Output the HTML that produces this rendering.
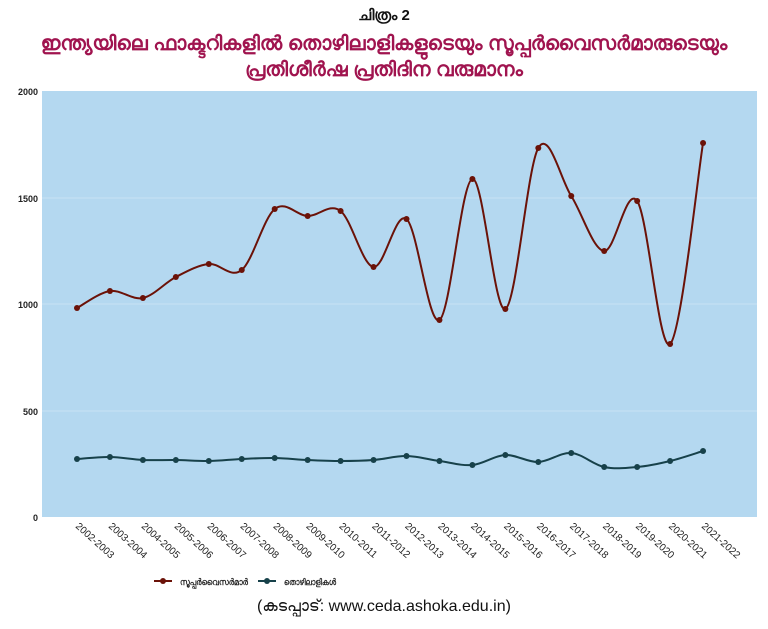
<!DOCTYPE html>
<html><head><meta charset="utf-8"><style>
body{margin:0;width:768px;height:624px;background:#fff;font-family:"Liberation Sans",sans-serif;overflow:hidden}
</style></head><body>
<svg id="s" width="768" height="624" xmlns="http://www.w3.org/2000/svg" font-family="Liberation Sans, sans-serif">
<text x="384" y="20" text-anchor="middle" font-size="15" font-weight="bold" fill="#111">ചിത്രം 2</text>
<text x="384" y="50" text-anchor="middle" font-size="20" font-weight="bold" fill="#a0144f">ഇന്ത്യയിലെ ഫാക്ടറികളിൽ തൊഴിലാളികളുടെയും സൂപ്പർവൈസർമാരുടെയും</text>
<text x="384" y="76" text-anchor="middle" font-size="20" font-weight="bold" fill="#a0144f">പ്രതിശീർഷ പ്രതിദിന വരുമാനം</text>
<rect x="42" y="91" width="715" height="426" fill="#b4d8f0"/>
<g stroke="#c8e2f4" stroke-width="1">
<line x1="42" x2="757" y1="198" y2="198"/><line x1="42" x2="757" y1="304" y2="304"/><line x1="42" x2="757" y1="411" y2="411"/>
</g>
<g font-size="9" font-weight="bold" fill="#222" text-anchor="end">
<text x="38" y="95">2000</text><text x="38" y="202">1500</text><text x="38" y="308">1000</text><text x="38" y="415">500</text><text x="38" y="521">0</text>
</g>
<g id="xl" font-size="10" fill="#222"></g>
<path id="p1" fill="none" stroke="#6b1208" stroke-width="2"/>
<path id="p2" fill="none" stroke="#17414a" stroke-width="2"/>
<g id="d"></g>
<line x1="154" y1="581" x2="172" y2="581" stroke="#6b1208" stroke-width="2"/><circle cx="163" cy="581" r="3" fill="#6b1208"/>
<text x="180" y="585" font-size="9" font-weight="bold" fill="#222" textLength="68" lengthAdjust="spacingAndGlyphs">സൂപ്പർവൈസർമാർ</text>
<line x1="258" y1="581" x2="276" y2="581" stroke="#17414a" stroke-width="2"/><circle cx="267" cy="581" r="3" fill="#17414a"/>
<text x="284" y="585" font-size="9" font-weight="bold" fill="#222" textLength="52" lengthAdjust="spacingAndGlyphs">തൊഴിലാളികൾ</text>
<text x="384" y="611" text-anchor="middle" font-size="16" fill="#111">(കടപ്പാട്: www.ceda.ashoka.edu.in)</text>
</svg>
<script>
var a=[308,291,298,277,264,270,209,216,211,267,219,320,179,309,148,196,251,201,344,143];
var b=[459,457,460,460,461,459,458,460,461,460,456,461,465,455,462,453,467,467,461,451];
function X(i){return 77+i*32.95}
function path(ys){var p=ys.map(function(y,i){return [X(i),y]});var d="M"+p[0][0]+","+p[0][1];
for(var i=0;i<p.length-1;i++){var p0=p[i-1]||p[i],p1=p[i],p2=p[i+1],p3=p[i+2]||p2;
d+="C"+(p1[0]+(p2[0]-p0[0])/6)+","+(p1[1]+(p2[1]-p0[1])/6)+" "+(p2[0]-(p3[0]-p1[0])/6)+","+(p2[1]-(p3[1]-p1[1])/6)+" "+p2[0]+","+p2[1];}return d}
document.getElementById("p1").setAttribute("d",path(a));
document.getElementById("p2").setAttribute("d",path(b));
var g=document.getElementById("d"),h="",xl="";
for(var i=0;i<20;i++){h+='<circle cx="'+X(i)+'" cy="'+a[i]+'" r="3" fill="#6b1208"/><circle cx="'+X(i)+'" cy="'+b[i]+'" r="3" fill="#17414a"/>';
var y0=2002+i;xl+='<text transform="translate('+(X(i)-2)+',527) rotate(42)">'+y0+'-'+(y0+1)+'</text>';}
g.innerHTML=h;document.getElementById("xl").innerHTML=xl;
</script>
</body></html>
